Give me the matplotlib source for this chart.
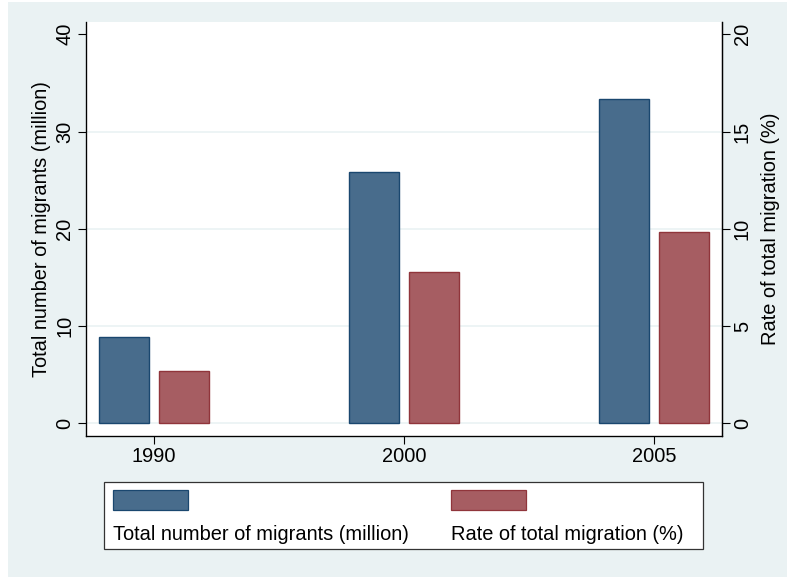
import matplotlib
matplotlib.use("Agg")
import matplotlib.pyplot as plt
from matplotlib.patches import Rectangle

years = ["1990", "2000", "2005"]
migrants_million = [8.84, 25.8, 33.3]
migration_rate_pct = [2.69, 7.76, 9.83]
series_names = ["Total number of migrants (million)", "Rate of total migration (%)"]
left_ticks = [0, 10, 20, 30, 40]
right_ticks = [0, 5, 10, 15, 20]

plt.rcParams['font.family'] = ['Liberation Sans', 'DejaVu Sans']
FS = 14.4
BG = '#EAF2F3'
BLUE_F, BLUE_E = '#486C8C', '#1A476F'
RED_F, RED_E = '#A65D62', '#90353B'

W, H = 787, 577
fig = plt.figure(figsize=(W/100, H/100), dpi=100, facecolor='white')
fig.patches.append(Rectangle((8/W, 0), 1 - 8/W, 1 - 2/H, transform=fig.transFigure,
                             facecolor=BG, edgecolor='none', zorder=-10))

ax = fig.add_axes([86/W, (H-436)/H, (722-86)/W, (436-22)/H])
ax.set_facecolor('white')
x = list(range(len(years)))
bw = 0.2
off = 0.12
ax.bar([i - off for i in x], migrants_million, width=bw, color=BLUE_F,
       edgecolor=BLUE_E, linewidth=1.0, zorder=3)
ax.set_xlim(-0.27, 2.27)
ax.set_ylim(-1.306, 41.265)
ax.set_yticks(left_ticks)
ax.set_yticklabels([str(t) for t in left_ticks], rotation=90, va='center', fontsize=FS)
for t in left_ticks[:-1]:
    ax.axhline(t, color=BG, linewidth=1.2, zorder=1)
ax.set_xticks(x)
ax.set_xticklabels(years, fontsize=FS)
ax.tick_params(axis='y', length=5.8, width=0.8, pad=2.5, direction='out')
ax.tick_params(axis='x', length=5.8, width=0.8, pad=2, direction='out')
ax.spines['top'].set_visible(False)
for s in ['left', 'bottom', 'right']:
    ax.spines[s].set_linewidth(0.9)
    ax.spines[s].set_color('black')
ax.set_ylabel(series_names[0], fontsize=FS, labelpad=3.5)

ax2 = ax.twinx()
ax2.bar([i + off for i in x], migration_rate_pct, width=bw, color=RED_F,
        edgecolor=RED_E, linewidth=1.0, zorder=3)
ax2.set_ylim(-1.306/2, 41.265/2)
ax2.set_yticks(right_ticks)
ax2.set_yticklabels([str(t) for t in right_ticks], rotation=90, va='center', fontsize=FS)
ax2.tick_params(axis='y', length=5.8, width=0.8, pad=2, direction='out')
ax2.spines['top'].set_visible(False)
ax2.spines['right'].set_linewidth(0.9)
ax2.set_ylabel(series_names[1], fontsize=FS, rotation=90, labelpad=6.5)

# Legend (Stata style: key above label)
fig.patches.append(Rectangle((104/W, (H-549)/H), (703-104)/W, (549-482)/H,
                             transform=fig.transFigure, facecolor='white',
                             edgecolor='#333333', linewidth=0.9, zorder=5))
for xs, fc, ec, name in [(113, BLUE_F, BLUE_E, series_names[0]),
                         (451, RED_F, RED_E, series_names[1])]:
    fig.patches.append(Rectangle((xs/W, (H-509.5)/H), 75/W, 19.5/H,
                                 transform=fig.transFigure, facecolor=fc,
                                 edgecolor=ec, linewidth=0.9, zorder=6))
    fig.text(xs/W, (H-540)/H, name, fontsize=FS, ha='left', va='baseline', zorder=7)

fig.savefig('out.png', dpi=100, facecolor='white')
